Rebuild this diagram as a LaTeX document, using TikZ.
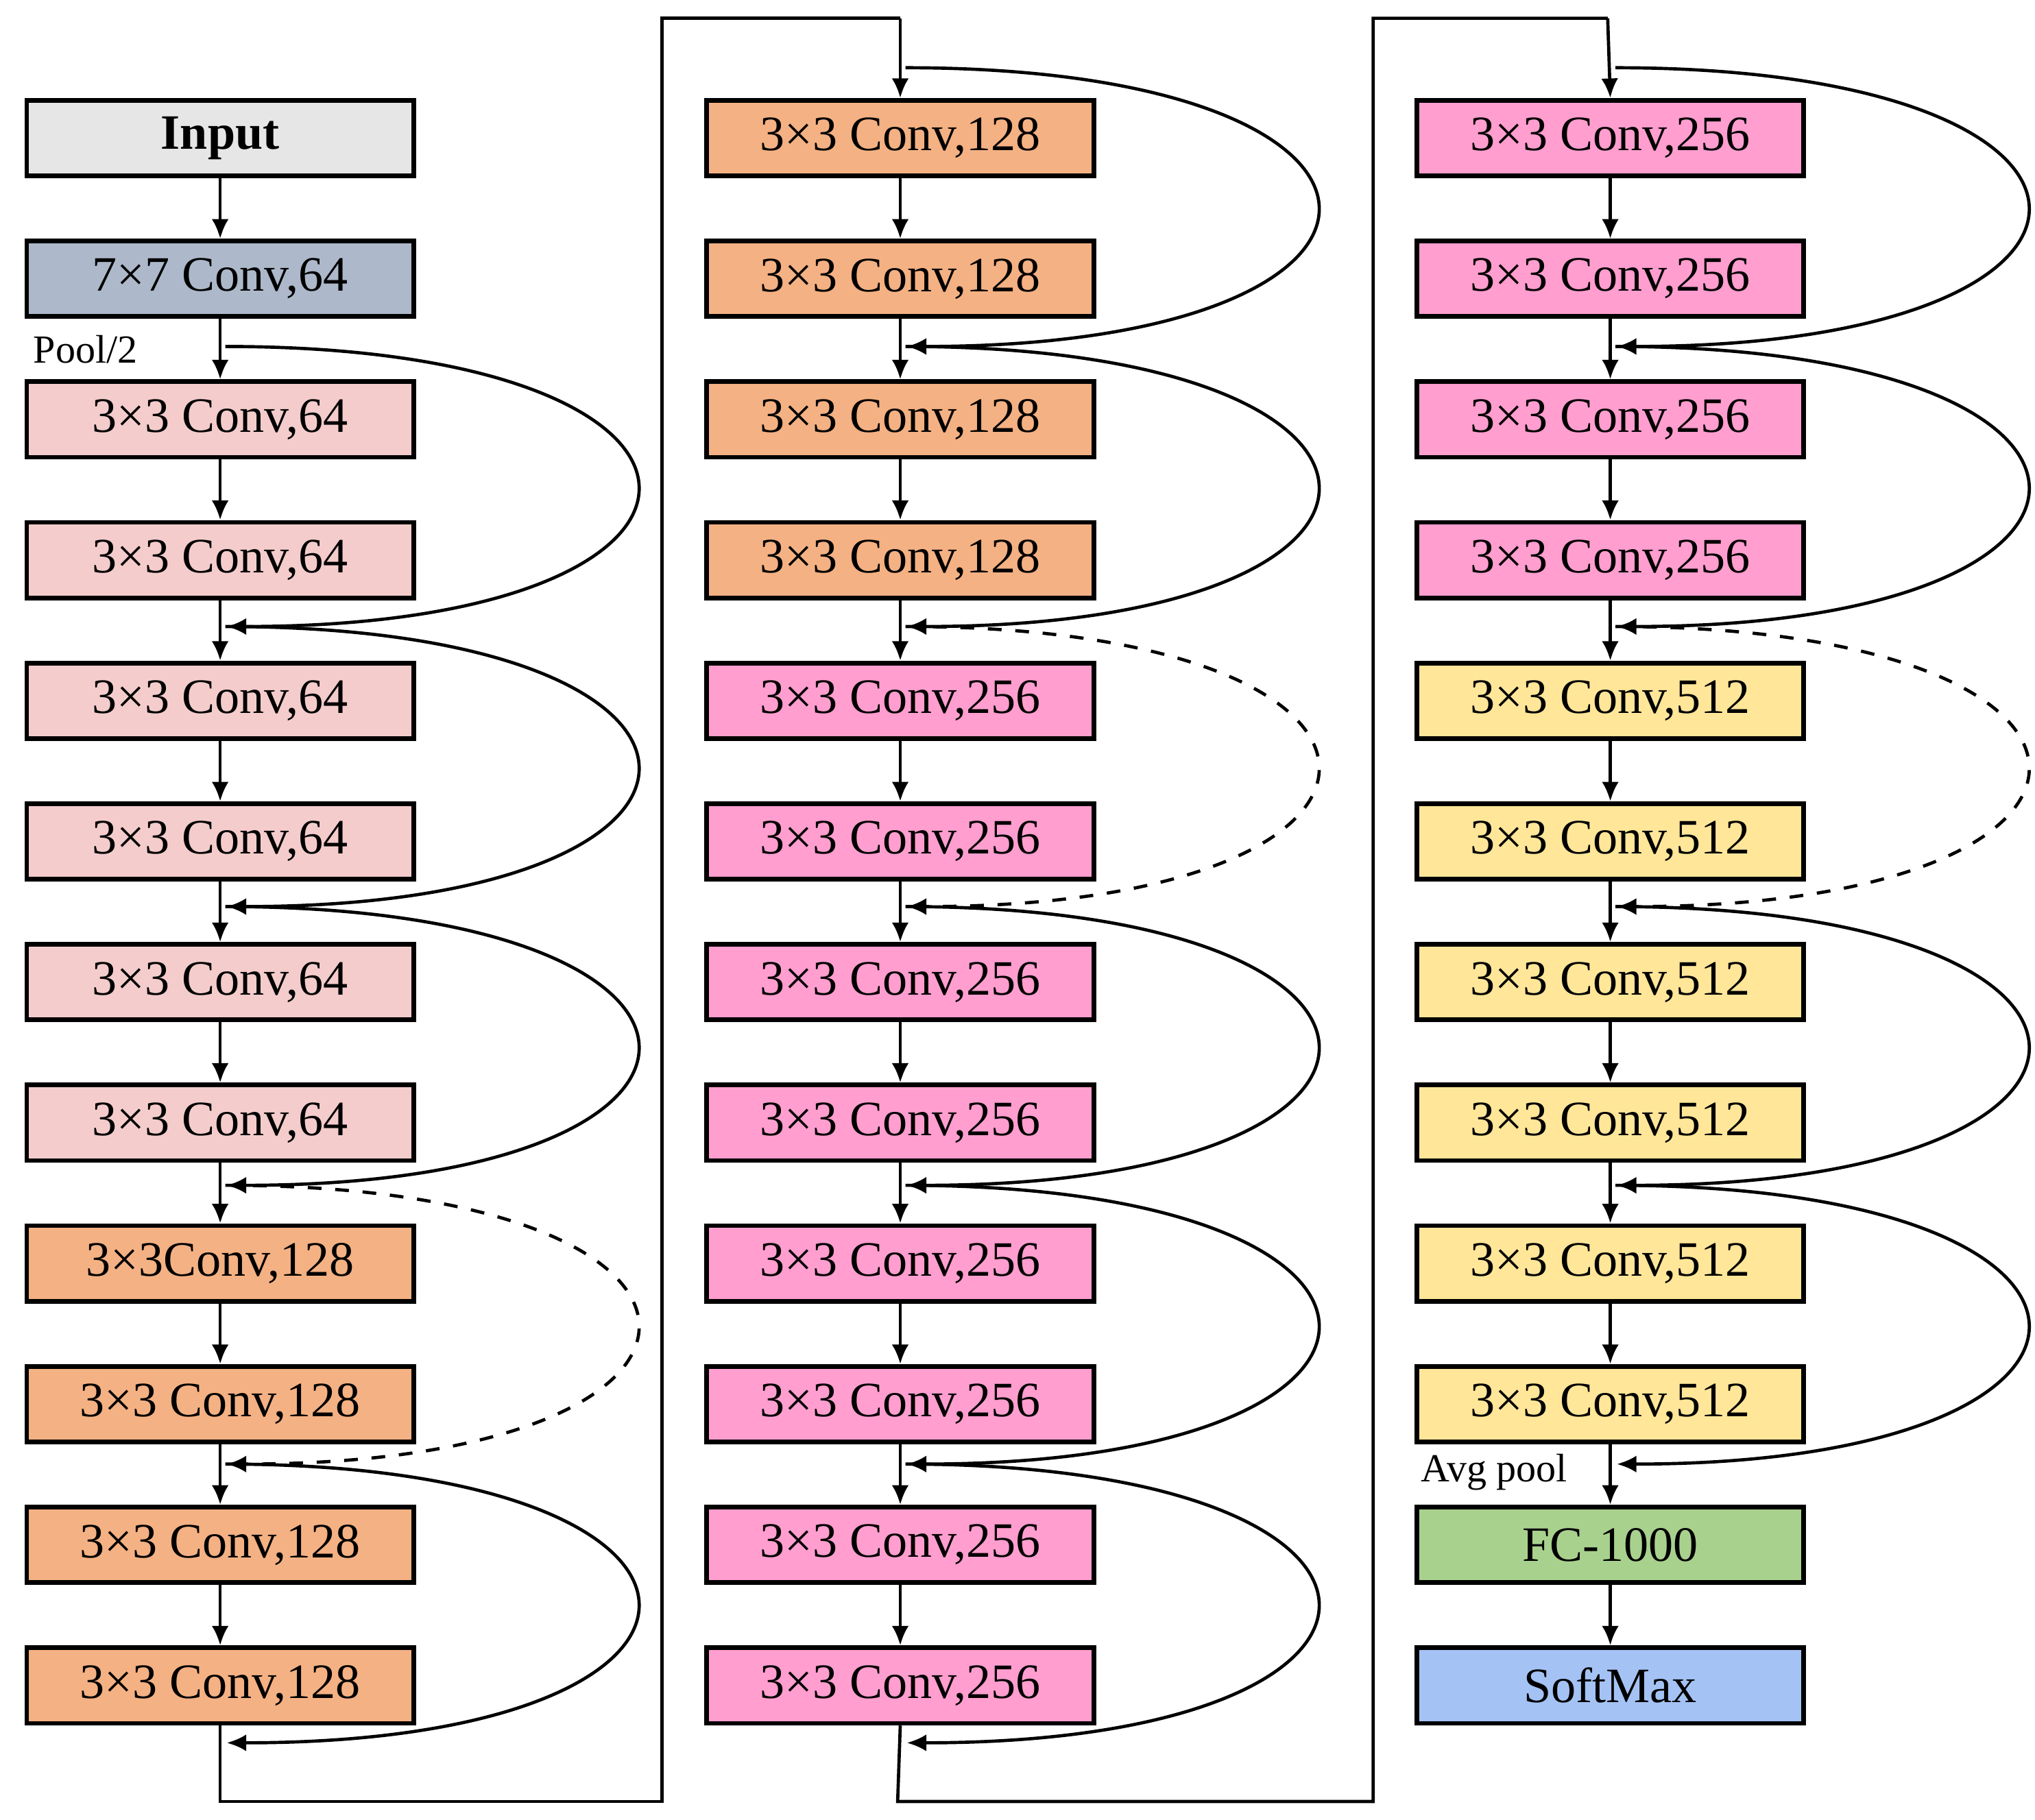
\documentclass[tikz,border=0pt]{standalone}
\usepackage{fontspec}
\setmainfont{Liberation Serif}
\usetikzlibrary{arrows.meta}
\definecolor{cin}{HTML}{E7E6E6}
\definecolor{cc7}{HTML}{ADB9CA}
\definecolor{clp}{HTML}{F4CCCC}
\definecolor{cor}{HTML}{F4B183}
\definecolor{cpk}{HTML}{FF9ECF}
\definecolor{cye}{HTML}{FFE699}
\definecolor{cgr}{HTML}{A9D18E}
\definecolor{cbl}{HTML}{A4C2F4}
\newcommand\skiparc[4]{\draw[arr,#4] (#1+0.04,-#2) .. controls (#1+4.25,-#2) and (#1+4.25,-#3) .. (#1+0.05,-#3);}
\begin{document}
\begin{tikzpicture}[
  box/.style={draw=black,line width=1pt,minimum width=2.97cm,minimum height=0.58cm,inner sep=0pt,font=\fontsize{10.8}{12}\selectfont},
  arr/.style={line width=0.7pt,-{Latex[length=0.15cm,width=0.13cm]}},
  ln/.style={line width=0.7pt}]
\useasboundingbox (0,0) rectangle (15.62,-13.97);
% column 1
\node[box,fill=cin,font=\fontsize{10.8}{12}\selectfont\bfseries] (a1) at (1.69,-1.06) {Input};
\node[box,fill=cc7] (a2) at (1.69,-2.14) {7×7 Conv,64};
\foreach \i in {3,...,8}{\node[box,fill=clp] (a\i) at (1.69,{-1.06-1.08*(\i-1)}) {3×3 Conv,64};}
\node[box,fill=cor] (a9) at (1.69,{-1.06-1.08*8}) {3×3Conv,128};
\foreach \i in {10,11,12}{\node[box,fill=cor] (a\i) at (1.69,{-1.06-1.08*(\i-1)}) {3×3 Conv,128};}
% column 2
\foreach \i in {1,...,4}{\node[box,fill=cor] (b\i) at (6.91,{-1.06-1.08*(\i-1)}) {3×3 Conv,128};}
\foreach \i in {5,...,12}{\node[box,fill=cpk] (b\i) at (6.91,{-1.06-1.08*(\i-1)}) {3×3 Conv,256};}
% column 3
\foreach \i in {1,...,4}{\node[box,fill=cpk] (c\i) at (12.36,{-1.06-1.08*(\i-1)}) {3×3 Conv,256};}
\foreach \i in {5,...,10}{\node[box,fill=cye] (c\i) at (12.36,{-1.06-1.08*(\i-1)}) {3×3 Conv,512};}
\node[box,fill=cgr] (c11) at (12.36,{-1.06-1.08*10}) {FC-1000};
\node[box,fill=cbl] (c12) at (12.36,{-1.06-1.08*11}) {SoftMax};
% vertical arrows
\foreach \i [evaluate=\i as \j using int(\i+1)] in {1,...,11}{
  \draw[arr] (a\i.south) -- (a\j.north);
  \draw[arr] (b\i.south) -- (b\j.north);
  \draw[arr] (c\i.south) -- (c\j.north);}
% labels
\node[font=\fontsize{8.7}{10}\selectfont,anchor=west,inner sep=0pt] (p2) at (0.25,-2.68) {Pool/2};
\node[font=\fontsize{8.7}{10}\selectfont,anchor=west,inner sep=0pt] (ap) at (10.9,-11.3) {Avg pool};
% column connectors
\coordinate (k1) at (1.69,-13.83); \coordinate (k2) at (5.08,-13.83);
\coordinate (k3) at (5.08,-0.14); \coordinate (k4) at (6.91,-0.14);
\draw[ln] (a12.south) -- (k1) -- (k2) -- (k3) -- (k4);
\draw[arr] (k4) -- (b1.north);
\coordinate (m1) at (6.89,-13.83); \coordinate (m2) at (10.54,-13.83);
\coordinate (m3) at (10.54,-0.14); \coordinate (m4) at (12.34,-0.14);
\draw[ln] (b12.south) -- (m1) -- (m2) -- (m3) -- (m4);
\draw[arr] (m4) -- (c1.north);
% skip arcs
\skiparc{1.69}{2.66}{4.81}{}
\skiparc{1.69}{4.81}{6.96}{}
\skiparc{1.69}{6.96}{9.10}{}
\skiparc{1.69}{9.10}{11.24}{dashed}
\skiparc{1.69}{11.24}{13.38}{}
\skiparc{6.91}{0.52}{2.66}{}
\skiparc{6.91}{2.66}{4.81}{}
\skiparc{6.91}{4.81}{6.96}{dashed}
\skiparc{6.91}{6.96}{9.10}{}
\skiparc{6.91}{9.10}{11.24}{}
\skiparc{6.91}{11.24}{13.38}{}
\skiparc{12.36}{0.52}{2.66}{}
\skiparc{12.36}{2.66}{4.81}{}
\skiparc{12.36}{4.81}{6.96}{dashed}
\skiparc{12.36}{6.96}{9.10}{}
\skiparc{12.36}{9.10}{11.24}{}
\end{tikzpicture}
\end{document}
